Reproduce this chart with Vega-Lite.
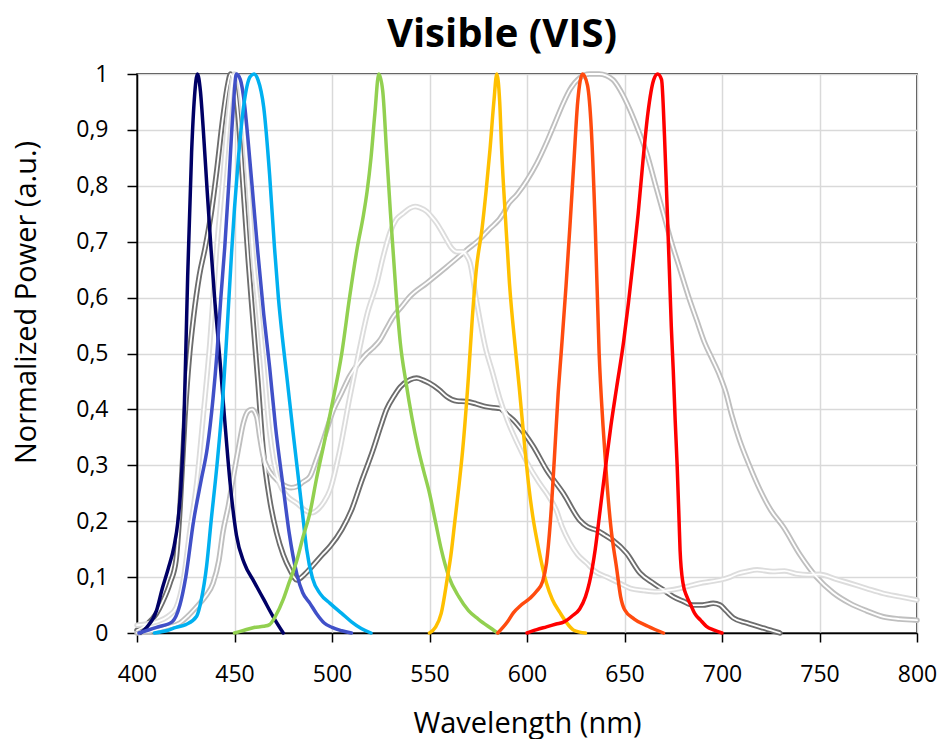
{
  "$schema": "https://vega.github.io/schema/vega-lite/v6.json",
  "width": 780,
  "height": 559,
  "autosize": {"type": "none"},
  "padding": {"left": 137, "top": 74, "right": 24, "bottom": 106},
  "background": "white",
  "title": {"text": "Visible (VIS)", "font": "Open Sans", "fontSize": 40, "fontWeight": "bold", "color": "black", "anchor": "middle", "dx": -25, "dy": 51, "offset": 27, "baseline": "alphabetic"},
  "config": {"view": {"stroke": "black", "strokeWidth": 1.5}},
  "datasets": {
    "spectra": [
      {"s":"430 nm","x":402,"y":0},{"s":"430 nm","x":405,"y":0.01},{"s":"430 nm","x":410,"y":0.04},{"s":"430 nm","x":413,"y":0.08},{"s":"430 nm","x":416,"y":0.115},{"s":"430 nm","x":419,"y":0.155},{"s":"430 nm","x":421,"y":0.2},{"s":"430 nm","x":422.5,"y":0.26},{"s":"430 nm","x":424,"y":0.37},{"s":"430 nm","x":425,"y":0.5},{"s":"430 nm","x":426,"y":0.64},{"s":"430 nm","x":428,"y":0.86},{"s":"430 nm","x":429.5,"y":0.96},{"s":"430 nm","x":431,"y":1.0},{"s":"430 nm","x":432.5,"y":0.97},{"s":"430 nm","x":434,"y":0.9},{"s":"430 nm","x":436,"y":0.79},{"s":"430 nm","x":438,"y":0.685},{"s":"430 nm","x":440,"y":0.59},{"s":"430 nm","x":442.5,"y":0.49},{"s":"430 nm","x":445,"y":0.38},{"s":"430 nm","x":447.7,"y":0.27},{"s":"430 nm","x":451,"y":0.175},{"s":"430 nm","x":455,"y":0.125},{"s":"430 nm","x":460,"y":0.092},{"s":"430 nm","x":465,"y":0.06},{"s":"430 nm","x":470,"y":0.028},{"s":"430 nm","x":475,"y":0},

      {"s":"450 nm","x":401,"y":0},{"s":"450 nm","x":410,"y":0.01},{"s":"450 nm","x":418,"y":0.02},{"s":"450 nm","x":422,"y":0.05},{"s":"450 nm","x":425,"y":0.1},{"s":"450 nm","x":429,"y":0.2},{"s":"450 nm","x":433,"y":0.275},{"s":"450 nm","x":436,"y":0.33},{"s":"450 nm","x":439,"y":0.42},{"s":"450 nm","x":441,"y":0.5},{"s":"450 nm","x":443,"y":0.6},{"s":"450 nm","x":445,"y":0.69},{"s":"450 nm","x":447,"y":0.8},{"s":"450 nm","x":449,"y":0.92},{"s":"450 nm","x":451,"y":1.0},{"s":"450 nm","x":453,"y":0.99},{"s":"450 nm","x":455,"y":0.95},{"s":"450 nm","x":457,"y":0.88},{"s":"450 nm","x":460,"y":0.76},{"s":"450 nm","x":462,"y":0.68},{"s":"450 nm","x":465,"y":0.57},{"s":"450 nm","x":468,"y":0.476},{"s":"450 nm","x":471,"y":0.37},{"s":"450 nm","x":475,"y":0.26},{"s":"450 nm","x":478,"y":0.18},{"s":"450 nm","x":482,"y":0.105},{"s":"450 nm","x":485,"y":0.072},{"s":"450 nm","x":488.7,"y":0.053},{"s":"450 nm","x":492,"y":0.035},{"s":"450 nm","x":496,"y":0.018},{"s":"450 nm","x":500,"y":0.01},{"s":"450 nm","x":505,"y":0.004},{"s":"450 nm","x":510,"y":0},

      {"s":"460 nm","x":409,"y":0},{"s":"460 nm","x":415,"y":0.004},{"s":"460 nm","x":420,"y":0.01},{"s":"460 nm","x":425,"y":0.015},{"s":"460 nm","x":430.6,"y":0.03},{"s":"460 nm","x":433,"y":0.06},{"s":"460 nm","x":435.7,"y":0.12},{"s":"460 nm","x":438,"y":0.2},{"s":"460 nm","x":441,"y":0.3},{"s":"460 nm","x":444,"y":0.42},{"s":"460 nm","x":446,"y":0.53},{"s":"460 nm","x":448.5,"y":0.68},{"s":"460 nm","x":450,"y":0.76},{"s":"460 nm","x":452,"y":0.85},{"s":"460 nm","x":455,"y":0.95},{"s":"460 nm","x":458,"y":0.995},{"s":"460 nm","x":460,"y":1.0},{"s":"460 nm","x":462,"y":0.99},{"s":"460 nm","x":465,"y":0.94},{"s":"460 nm","x":468,"y":0.82},{"s":"460 nm","x":470.5,"y":0.69},{"s":"460 nm","x":472.5,"y":0.6},{"s":"460 nm","x":474.5,"y":0.53},{"s":"460 nm","x":476.8,"y":0.46},{"s":"460 nm","x":480,"y":0.36},{"s":"460 nm","x":483,"y":0.27},{"s":"460 nm","x":485,"y":0.21},{"s":"460 nm","x":487,"y":0.15},{"s":"460 nm","x":490,"y":0.098},{"s":"460 nm","x":494,"y":0.07},{"s":"460 nm","x":499,"y":0.053},{"s":"460 nm","x":505,"y":0.035},{"s":"460 nm","x":510,"y":0.02},{"s":"460 nm","x":515,"y":0.008},{"s":"460 nm","x":520,"y":0},

      {"s":"525 nm","x":450,"y":0},{"s":"525 nm","x":455,"y":0.005},{"s":"525 nm","x":460,"y":0.01},{"s":"525 nm","x":465,"y":0.012},{"s":"525 nm","x":468,"y":0.015},{"s":"525 nm","x":471,"y":0.03},{"s":"525 nm","x":475,"y":0.06},{"s":"525 nm","x":478,"y":0.09},{"s":"525 nm","x":482,"y":0.13},{"s":"525 nm","x":485,"y":0.17},{"s":"525 nm","x":488.7,"y":0.215},{"s":"525 nm","x":492,"y":0.275},{"s":"525 nm","x":496,"y":0.34},{"s":"525 nm","x":499.8,"y":0.405},{"s":"525 nm","x":505,"y":0.5},{"s":"525 nm","x":509,"y":0.6},{"s":"525 nm","x":513,"y":0.69},{"s":"525 nm","x":516,"y":0.745},{"s":"525 nm","x":518,"y":0.79},{"s":"525 nm","x":520,"y":0.85},{"s":"525 nm","x":522,"y":0.93},{"s":"525 nm","x":524,"y":1.0},{"s":"525 nm","x":526,"y":0.97},{"s":"525 nm","x":528,"y":0.86},{"s":"525 nm","x":530,"y":0.75},{"s":"525 nm","x":533,"y":0.6},{"s":"525 nm","x":535,"y":0.52},{"s":"525 nm","x":538,"y":0.447},{"s":"525 nm","x":541,"y":0.385},{"s":"525 nm","x":544,"y":0.333},{"s":"525 nm","x":547,"y":0.29},{"s":"525 nm","x":550,"y":0.25},{"s":"525 nm","x":553,"y":0.2},{"s":"525 nm","x":556,"y":0.15},{"s":"525 nm","x":560,"y":0.1},{"s":"525 nm","x":565,"y":0.065},{"s":"525 nm","x":570,"y":0.04},{"s":"525 nm","x":575,"y":0.025},{"s":"525 nm","x":580,"y":0.012},{"s":"525 nm","x":585,"y":0},

      {"s":"585 nm","x":550,"y":0},{"s":"585 nm","x":553,"y":0.01},{"s":"585 nm","x":556,"y":0.035},{"s":"585 nm","x":559,"y":0.095},{"s":"585 nm","x":561,"y":0.14},{"s":"585 nm","x":563,"y":0.2},{"s":"585 nm","x":565,"y":0.26},{"s":"585 nm","x":567,"y":0.327},{"s":"585 nm","x":570,"y":0.46},{"s":"585 nm","x":572,"y":0.566},{"s":"585 nm","x":574,"y":0.65},{"s":"585 nm","x":577,"y":0.725},{"s":"585 nm","x":579,"y":0.79},{"s":"585 nm","x":581,"y":0.864},{"s":"585 nm","x":583,"y":0.95},{"s":"585 nm","x":584.5,"y":1.0},{"s":"585 nm","x":586,"y":0.95},{"s":"585 nm","x":587,"y":0.864},{"s":"585 nm","x":589,"y":0.74},{"s":"585 nm","x":591,"y":0.626},{"s":"585 nm","x":594,"y":0.51},{"s":"585 nm","x":596,"y":0.44},{"s":"585 nm","x":599,"y":0.327},{"s":"585 nm","x":601,"y":0.26},{"s":"585 nm","x":603,"y":0.208},{"s":"585 nm","x":606,"y":0.15},{"s":"585 nm","x":610,"y":0.089},{"s":"585 nm","x":613,"y":0.06},{"s":"585 nm","x":617,"y":0.036},{"s":"585 nm","x":620,"y":0.02},{"s":"585 nm","x":624,"y":0.005},{"s":"585 nm","x":630,"y":0},

      {"s":"630 nm","x":585,"y":0},{"s":"630 nm","x":590,"y":0.02},{"s":"630 nm","x":593,"y":0.036},{"s":"630 nm","x":597,"y":0.05},{"s":"630 nm","x":601.5,"y":0.062},{"s":"630 nm","x":605,"y":0.075},{"s":"630 nm","x":608,"y":0.092},{"s":"630 nm","x":610,"y":0.125},{"s":"630 nm","x":612,"y":0.2},{"s":"630 nm","x":614,"y":0.31},{"s":"630 nm","x":616,"y":0.43},{"s":"630 nm","x":617.5,"y":0.5},{"s":"630 nm","x":620,"y":0.62},{"s":"630 nm","x":622,"y":0.727},{"s":"630 nm","x":624,"y":0.84},{"s":"630 nm","x":626,"y":0.95},{"s":"630 nm","x":628.5,"y":1.0},{"s":"630 nm","x":631,"y":0.98},{"s":"630 nm","x":633,"y":0.9},{"s":"630 nm","x":635,"y":0.727},{"s":"630 nm","x":637,"y":0.5},{"s":"630 nm","x":639,"y":0.37},{"s":"630 nm","x":641,"y":0.268},{"s":"630 nm","x":643,"y":0.19},{"s":"630 nm","x":646,"y":0.115},{"s":"630 nm","x":648,"y":0.065},{"s":"630 nm","x":650,"y":0.042},{"s":"630 nm","x":655,"y":0.025},{"s":"630 nm","x":662,"y":0.012},{"s":"630 nm","x":670,"y":0},

      {"s":"665 nm","x":600,"y":0},{"s":"665 nm","x":605,"y":0.006},{"s":"665 nm","x":610,"y":0.011},{"s":"665 nm","x":615,"y":0.016},{"s":"665 nm","x":619,"y":0.02},{"s":"665 nm","x":623,"y":0.03},{"s":"665 nm","x":627,"y":0.043},{"s":"665 nm","x":630,"y":0.065},{"s":"665 nm","x":632,"y":0.09},{"s":"665 nm","x":635,"y":0.15},{"s":"665 nm","x":637.5,"y":0.22},{"s":"665 nm","x":640,"y":0.29},{"s":"665 nm","x":643,"y":0.37},{"s":"665 nm","x":646,"y":0.44},{"s":"665 nm","x":649.5,"y":0.52},{"s":"665 nm","x":652,"y":0.59},{"s":"665 nm","x":654.5,"y":0.667},{"s":"665 nm","x":657,"y":0.75},{"s":"665 nm","x":659.5,"y":0.846},{"s":"665 nm","x":662,"y":0.93},{"s":"665 nm","x":665,"y":0.99},{"s":"665 nm","x":667,"y":1.0},{"s":"665 nm","x":669,"y":0.99},{"s":"665 nm","x":670.5,"y":0.89},{"s":"665 nm","x":671.6,"y":0.787},{"s":"665 nm","x":673,"y":0.65},{"s":"665 nm","x":674,"y":0.548},{"s":"665 nm","x":675,"y":0.47},{"s":"665 nm","x":676,"y":0.38},{"s":"665 nm","x":677,"y":0.3},{"s":"665 nm","x":678,"y":0.2},{"s":"665 nm","x":678.5,"y":0.148},{"s":"665 nm","x":680,"y":0.089},{"s":"665 nm","x":682,"y":0.065},{"s":"665 nm","x":684,"y":0.05},{"s":"665 nm","x":686,"y":0.035},{"s":"665 nm","x":689,"y":0.023},{"s":"665 nm","x":692,"y":0.012},{"s":"665 nm","x":696,"y":0.005},{"s":"665 nm","x":700,"y":0},

      {"s":"White 1","x":400,"y":0.005},{"s":"White 1","x":405,"y":0.015},{"s":"White 1","x":410,"y":0.035},{"s":"White 1","x":413,"y":0.055},{"s":"White 1","x":417,"y":0.09},{"s":"White 1","x":420,"y":0.13},{"s":"White 1","x":422,"y":0.22},{"s":"White 1","x":424.6,"y":0.387},{"s":"White 1","x":427,"y":0.5},{"s":"White 1","x":429,"y":0.565},{"s":"White 1","x":432,"y":0.64},{"s":"White 1","x":435,"y":0.69},{"s":"White 1","x":438,"y":0.75},{"s":"White 1","x":441,"y":0.83},{"s":"White 1","x":444,"y":0.92},{"s":"White 1","x":446.5,"y":0.98},{"s":"White 1","x":448,"y":1.0},{"s":"White 1","x":450,"y":0.98},{"s":"White 1","x":452,"y":0.92},{"s":"White 1","x":454,"y":0.82},{"s":"White 1","x":456,"y":0.72},{"s":"White 1","x":457,"y":0.67},{"s":"White 1","x":459,"y":0.58},{"s":"White 1","x":462,"y":0.45},{"s":"White 1","x":464.7,"y":0.327},{"s":"White 1","x":468,"y":0.24},{"s":"White 1","x":471.6,"y":0.179},{"s":"White 1","x":475,"y":0.14},{"s":"White 1","x":478.5,"y":0.113},{"s":"White 1","x":482,"y":0.095},{"s":"White 1","x":486,"y":0.105},{"s":"White 1","x":490,"y":0.12},{"s":"White 1","x":495,"y":0.14},{"s":"White 1","x":499,"y":0.155},{"s":"White 1","x":505,"y":0.185},{"s":"White 1","x":510,"y":0.22},{"s":"White 1","x":515,"y":0.27},{"s":"White 1","x":521,"y":0.327},{"s":"White 1","x":525,"y":0.37},{"s":"White 1","x":528,"y":0.4},{"s":"White 1","x":532,"y":0.425},{"s":"White 1","x":535,"y":0.44},{"s":"White 1","x":540,"y":0.453},{"s":"White 1","x":543.4,"y":0.456},{"s":"White 1","x":547,"y":0.452},{"s":"White 1","x":550,"y":0.447},{"s":"White 1","x":555,"y":0.435},{"s":"White 1","x":558.8,"y":0.423},{"s":"White 1","x":564,"y":0.415},{"s":"White 1","x":569,"y":0.414},{"s":"White 1","x":574,"y":0.41},{"s":"White 1","x":579,"y":0.405},{"s":"White 1","x":583,"y":0.403},{"s":"White 1","x":586,"y":0.402},{"s":"White 1","x":590,"y":0.39},{"s":"White 1","x":593,"y":0.381},{"s":"White 1","x":598,"y":0.36},{"s":"White 1","x":603,"y":0.335},{"s":"White 1","x":610,"y":0.292},{"s":"White 1","x":618.6,"y":0.25},{"s":"White 1","x":627,"y":0.202},{"s":"White 1","x":631,"y":0.19},{"s":"White 1","x":635.7,"y":0.184},{"s":"White 1","x":640,"y":0.175},{"s":"White 1","x":644,"y":0.166},{"s":"White 1","x":651,"y":0.143},{"s":"White 1","x":658,"y":0.107},{"s":"White 1","x":664.8,"y":0.089},{"s":"White 1","x":670,"y":0.077},{"s":"White 1","x":675,"y":0.065},{"s":"White 1","x":680,"y":0.057},{"s":"White 1","x":685,"y":0.05},{"s":"White 1","x":690,"y":0.05},{"s":"White 1","x":695.5,"y":0.053},{"s":"White 1","x":699,"y":0.05},{"s":"White 1","x":702,"y":0.04},{"s":"White 1","x":705.8,"y":0.027},{"s":"White 1","x":712.7,"y":0.018},{"s":"White 1","x":721,"y":0.009},{"s":"White 1","x":726,"y":0.004},{"s":"White 1","x":729.7,"y":0},

      {"s":"White 2","x":400,"y":0},{"s":"White 2","x":407,"y":0.003},{"s":"White 2","x":415,"y":0.01},{"s":"White 2","x":422,"y":0.018},{"s":"White 2","x":426,"y":0.03},{"s":"White 2","x":430.6,"y":0.047},{"s":"White 2","x":435,"y":0.065},{"s":"White 2","x":439,"y":0.089},{"s":"White 2","x":442,"y":0.13},{"s":"White 2","x":444,"y":0.179},{"s":"White 2","x":447,"y":0.23},{"s":"White 2","x":449.4,"y":0.28},{"s":"White 2","x":452,"y":0.33},{"s":"White 2","x":454.5,"y":0.375},{"s":"White 2","x":457,"y":0.397},{"s":"White 2","x":459,"y":0.4},{"s":"White 2","x":461.4,"y":0.387},{"s":"White 2","x":463,"y":0.35},{"s":"White 2","x":464.8,"y":0.315},{"s":"White 2","x":467,"y":0.295},{"s":"White 2","x":470,"y":0.28},{"s":"White 2","x":475,"y":0.265},{"s":"White 2","x":479,"y":0.26},{"s":"White 2","x":482,"y":0.262},{"s":"White 2","x":485,"y":0.27},{"s":"White 2","x":488.7,"y":0.28},{"s":"White 2","x":492,"y":0.31},{"s":"White 2","x":496,"y":0.35},{"s":"White 2","x":500.7,"y":0.399},{"s":"White 2","x":505,"y":0.43},{"s":"White 2","x":509,"y":0.459},{"s":"White 2","x":513,"y":0.48},{"s":"White 2","x":517.8,"y":0.5},{"s":"White 2","x":521,"y":0.51},{"s":"White 2","x":524.6,"y":0.524},{"s":"White 2","x":528,"y":0.545},{"s":"White 2","x":531.5,"y":0.566},{"s":"White 2","x":536,"y":0.585},{"s":"White 2","x":540,"y":0.602},{"s":"White 2","x":548.6,"y":0.626},{"s":"White 2","x":558.8,"y":0.655},{"s":"White 2","x":569,"y":0.685},{"s":"White 2","x":576,"y":0.705},{"s":"White 2","x":580,"y":0.72},{"s":"White 2","x":588,"y":0.751},{"s":"White 2","x":590,"y":0.765},{"s":"White 2","x":595,"y":0.785},{"s":"White 2","x":600,"y":0.81},{"s":"White 2","x":605,"y":0.84},{"s":"White 2","x":610,"y":0.877},{"s":"White 2","x":614,"y":0.91},{"s":"White 2","x":618.6,"y":0.948},{"s":"White 2","x":622,"y":0.972},{"s":"White 2","x":627,"y":0.993},{"s":"White 2","x":632,"y":1.0},{"s":"White 2","x":637,"y":1.0},{"s":"White 2","x":644,"y":0.99},{"s":"White 2","x":648,"y":0.97},{"s":"White 2","x":652.8,"y":0.936},{"s":"White 2","x":657,"y":0.9},{"s":"White 2","x":661.4,"y":0.858},{"s":"White 2","x":666,"y":0.8},{"s":"White 2","x":670,"y":0.75},{"s":"White 2","x":674,"y":0.7},{"s":"White 2","x":678.5,"y":0.65},{"s":"White 2","x":683,"y":0.6},{"s":"White 2","x":687,"y":0.56},{"s":"White 2","x":691,"y":0.52},{"s":"White 2","x":695,"y":0.49},{"s":"White 2","x":699,"y":0.459},{"s":"White 2","x":702,"y":0.43},{"s":"White 2","x":705,"y":0.39},{"s":"White 2","x":709,"y":0.345},{"s":"White 2","x":714,"y":0.3},{"s":"White 2","x":719.5,"y":0.256},{"s":"White 2","x":725,"y":0.22},{"s":"White 2","x":731.4,"y":0.19},{"s":"White 2","x":740,"y":0.14},{"s":"White 2","x":748.5,"y":0.1},{"s":"White 2","x":757,"y":0.072},{"s":"White 2","x":765.6,"y":0.053},{"s":"White 2","x":774,"y":0.04},{"s":"White 2","x":782.7,"y":0.029},{"s":"White 2","x":791,"y":0.025},{"s":"White 2","x":800,"y":0.023},

      {"s":"White 3","x":400,"y":0.014},{"s":"White 3","x":410,"y":0.02},{"s":"White 3","x":416,"y":0.03},{"s":"White 3","x":420,"y":0.045},{"s":"White 3","x":424,"y":0.1},{"s":"White 3","x":427,"y":0.18},{"s":"White 3","x":430.6,"y":0.268},{"s":"White 3","x":434,"y":0.39},{"s":"White 3","x":437.4,"y":0.52},{"s":"White 3","x":440.8,"y":0.685},{"s":"White 3","x":444,"y":0.81},{"s":"White 3","x":447,"y":0.93},{"s":"White 3","x":450,"y":1.0},{"s":"White 3","x":452,"y":0.99},{"s":"White 3","x":455,"y":0.9},{"s":"White 3","x":457.5,"y":0.78},{"s":"White 3","x":459.6,"y":0.67},{"s":"White 3","x":462,"y":0.59},{"s":"White 3","x":464.7,"y":0.49},{"s":"White 3","x":468,"y":0.36},{"s":"White 3","x":470,"y":0.31},{"s":"White 3","x":473,"y":0.268},{"s":"White 3","x":477,"y":0.245},{"s":"White 3","x":482,"y":0.232},{"s":"White 3","x":486,"y":0.22},{"s":"White 3","x":489.6,"y":0.215},{"s":"White 3","x":493,"y":0.222},{"s":"White 3","x":496,"y":0.235},{"s":"White 3","x":499,"y":0.256},{"s":"White 3","x":504,"y":0.327},{"s":"White 3","x":509,"y":0.42},{"s":"White 3","x":514,"y":0.506},{"s":"White 3","x":518,"y":0.57},{"s":"White 3","x":523,"y":0.626},{"s":"White 3","x":526,"y":0.67},{"s":"White 3","x":529.7,"y":0.716},{"s":"White 3","x":533,"y":0.74},{"s":"White 3","x":536.6,"y":0.751},{"s":"White 3","x":540,"y":0.76},{"s":"White 3","x":542.6,"y":0.763},{"s":"White 3","x":545,"y":0.761},{"s":"White 3","x":548.6,"y":0.754},{"s":"White 3","x":551,"y":0.745},{"s":"White 3","x":553.7,"y":0.733},{"s":"White 3","x":556,"y":0.72},{"s":"White 3","x":558.8,"y":0.703},{"s":"White 3","x":561,"y":0.69},{"s":"White 3","x":564,"y":0.682},{"s":"White 3","x":567,"y":0.682},{"s":"White 3","x":569,"y":0.675},{"s":"White 3","x":570.8,"y":0.662},{"s":"White 3","x":574,"y":0.596},{"s":"White 3","x":579,"y":0.506},{"s":"White 3","x":582,"y":0.47},{"s":"White 3","x":586,"y":0.42},{"s":"White 3","x":590,"y":0.38},{"s":"White 3","x":595,"y":0.34},{"s":"White 3","x":600,"y":0.305},{"s":"White 3","x":606,"y":0.27},{"s":"White 3","x":611,"y":0.245},{"s":"White 3","x":615,"y":0.22},{"s":"White 3","x":618,"y":0.19},{"s":"White 3","x":622,"y":0.161},{"s":"White 3","x":626,"y":0.14},{"s":"White 3","x":630.6,"y":0.125},{"s":"White 3","x":635,"y":0.11},{"s":"White 3","x":641,"y":0.1},{"s":"White 3","x":647,"y":0.09},{"s":"White 3","x":653,"y":0.08},{"s":"White 3","x":660,"y":0.076},{"s":"White 3","x":666.5,"y":0.074},{"s":"White 3","x":672,"y":0.076},{"s":"White 3","x":678.5,"y":0.08},{"s":"White 3","x":683,"y":0.084},{"s":"White 3","x":688.7,"y":0.089},{"s":"White 3","x":694,"y":0.092},{"s":"White 3","x":699,"y":0.095},{"s":"White 3","x":704,"y":0.1},{"s":"White 3","x":708,"y":0.106},{"s":"White 3","x":712.7,"y":0.11},{"s":"White 3","x":718,"y":0.113},{"s":"White 3","x":726,"y":0.11},{"s":"White 3","x":732,"y":0.111},{"s":"White 3","x":738,"y":0.106},{"s":"White 3","x":744,"y":0.104},{"s":"White 3","x":750,"y":0.105},{"s":"White 3","x":758,"y":0.097},{"s":"White 3","x":765.6,"y":0.089},{"s":"White 3","x":774,"y":0.08},{"s":"White 3","x":782.6,"y":0.071},{"s":"White 3","x":791,"y":0.065},{"s":"White 3","x":800,"y":0.059}
    ]
  },
  "data": {"name": "spectra"},
  "encoding": {
    "x": {
      "field": "x", "type": "quantitative",
      "scale": {"domain": [400, 800], "nice": false, "zero": false},
      "axis": {
        "title": "Wavelength (nm)", "values": [400, 450, 500, 550, 600, 650, 700, 750, 800], "format": "d",
        "grid": true, "gridColor": "#d9d9d9", "gridWidth": 1.5,
        "domainColor": "black", "domainWidth": 1.5, "tickColor": "black", "tickWidth": 1.5, "tickSize": 9,
        "labelFont": "Open Sans", "labelFontSize": 23, "labelColor": "black", "labelBaseline": "alphabetic", "labelPadding": 39, "labelFlush": false,
        "titleFont": "Open Sans", "titleFontSize": 29, "titleFontWeight": "normal", "titleColor": "black", "titleBaseline": "alphabetic", "titleY": 99
      }
    },
    "y": {
      "field": "y", "type": "quantitative",
      "scale": {"domain": [0, 1], "nice": false},
      "axis": {
        "title": "Normalized Power (a.u.)", "values": [0, 0.1, 0.2, 0.3, 0.4, 0.5, 0.6, 0.7, 0.8, 0.9, 1], "format": ".1~f",
        "labelExpr": "replace(datum.label, '.', ',')",
        "grid": true, "gridColor": "#d9d9d9", "gridWidth": 1.5,
        "domainColor": "black", "domainWidth": 1.5, "tickColor": "black", "tickWidth": 1.5, "tickSize": 10,
        "labelFont": "Open Sans", "labelFontSize": 23, "labelColor": "black", "labelPadding": 19, "labelFlush": false,
        "titleFont": "Open Sans", "titleFontSize": 29, "titleFontWeight": "normal", "titleColor": "black", "titleBaseline": "alphabetic", "titleX": -102, "titleY": 228
      }
    }
  },
  "layer": [
    {
      "transform": [{"filter": {"field": "s", "oneOf": ["White 1", "White 2", "White 3"]}}],
      "mark": {"type": "line", "interpolate": "monotone", "strokeWidth": 5.5, "strokeJoin": "round", "strokeCap": "round"},
      "encoding": {
        "color": {"field": "s", "type": "nominal", "legend": null,
          "scale": {"domain": ["430 nm", "450 nm", "460 nm", "525 nm", "585 nm", "630 nm", "665 nm", "White 1", "White 2", "White 3"],
                    "range": ["#000066", "#4050c8", "#00b0f0", "#92d050", "#ffc000", "#ff4b0f", "#ff0000", "#6d6d6d", "#bfbfbf", "#dcdcdc"]}}
      }
    },
    {
      "transform": [{"filter": {"field": "s", "oneOf": ["White 1", "White 2", "White 3"]}}],
      "mark": {"type": "line", "interpolate": "monotone", "strokeWidth": 1.8, "color": "white", "strokeJoin": "round", "strokeCap": "round"},
      "encoding": {"detail": {"field": "s", "type": "nominal"}}
    },
    {
      "transform": [{"filter": {"field": "s", "oneOf": ["430 nm", "450 nm", "460 nm", "525 nm", "585 nm", "630 nm", "665 nm"]}}],
      "mark": {"type": "line", "interpolate": "monotone", "strokeWidth": 3.5, "strokeJoin": "round", "strokeCap": "round"},
      "encoding": {
        "color": {"field": "s", "type": "nominal", "legend": null}
      }
    }
  ]
}
